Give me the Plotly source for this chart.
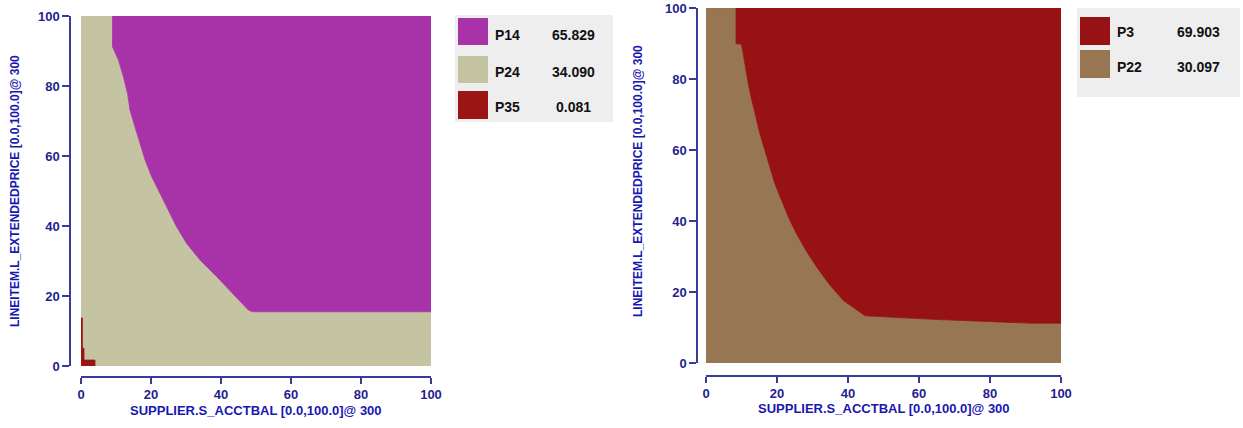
import plotly.graph_objects as go

W, H = 1243, 428

# ---- left panel: partition regions over SUPPLIER.S_ACCTBAL x LINEITEM.L_EXTENDEDPRICE ----
left_names = ["P14", "P24", "P35"]
left_shares = [65.829, 34.090, 0.081]
left_colors = ["#A833A8", "#C4C4A3", "#9B1515"]

# boundary between P24 (lower-left) and P14 (upper-right), from top to bottom
p14_edge_x = [9.0, 9.0, 10.7, 12.1, 13.3, 14.0, 15.4, 16.9, 18.3, 20.2, 22.6, 24.9, 27.3,
              30.2, 34.0, 38.8, 43.3, 47.8, 49.0, 100.0]
p14_edge_y = [100.0, 91.2, 87.4, 82.7, 77.9, 73.1, 68.4, 63.6, 58.9, 54.1, 49.3, 44.6, 39.8,
              35.0, 30.3, 25.5, 20.8, 16.0, 15.5, 15.5]

# small P35 pocket in the origin corner (step outline)
p35_x = [0.0, 4.0, 4.0, 0.86, 0.86, 0.4, 0.4, 0.0]
p35_y = [0.0, 0.0, 1.7, 1.7, 5.1, 5.1, 13.7, 13.7]

# ---- right panel ----
right_names = ["P3", "P22"]
right_shares = [69.903, 30.097]
right_colors = ["#961214", "#977653"]

p3_edge_x = [8.45, 8.45, 10.0, 11.0, 11.9, 12.9, 14.0, 15.2, 16.6, 18.0, 19.4, 21.3, 23.2,
             25.5, 28.2, 31.2, 34.7, 38.7, 44.8, 64.0, 80.9, 92.2, 100.0]
p3_edge_y = [100.0, 90.0, 89.8, 83.4, 78.7, 74.0, 69.3, 64.6, 59.9, 55.2, 50.5, 45.8, 41.1,
             36.4, 31.6, 27.0, 22.2, 17.6, 13.3, 12.3, 11.7, 11.2, 11.2]

x_ticks = [0, 20, 40, 60, 80, 100]
y_ticks = [0, 20, 40, 60, 80, 100]
x_title = "SUPPLIER.S_ACCTBAL [0.0,100.0]@ 300"
y_title = "LINEITEM.L_EXTENDEDPRICE [0.0,100.0]@ 300"

FONT = "Liberation Sans, Arial, sans-serif"
AXIS_LINE = "#3A3A9A"
TICK_COL = "#1F1F90"
TITLE_COL = "#1818B0"


def px(v):
    return v / W


def py(v):
    return 1 - v / H


def upper_region(ex, ey):
    """Polygon above/right of a boundary that runs from the top edge to the right edge."""
    xs = list(ex) + [100.0, ex[0]]
    ys = list(ey) + [100.0, ey[0]]
    return xs, ys


def lower_region(ex, ey):
    """Polygon below/left of the same boundary."""
    xs = [0.0, 100.0] + list(reversed(ex)) + [0.0, 0.0]
    ys = [0.0, 0.0] + list(reversed(ey)) + [100.0, 0.0]
    return xs, ys


def area(xs, ys, color, xa, ya):
    return go.Scatter(x=xs, y=ys, mode="lines", fill="toself", fillcolor=color,
                      line=dict(color=color, width=0.8), hoverinfo="skip",
                      showlegend=False, xaxis=xa, yaxis=ya)


fig = go.Figure()

# left panel
lx, ly = lower_region(p14_edge_x, p14_edge_y)
fig.add_trace(area(lx, ly, left_colors[1], "x", "y"))
ux, uy = upper_region(p14_edge_x, p14_edge_y)
fig.add_trace(area(ux, uy, left_colors[0], "x", "y"))
fig.add_trace(area(p35_x, p35_y, left_colors[2], "x", "y"))

# right panel
lx, ly = lower_region(p3_edge_x, p3_edge_y)
fig.add_trace(area(lx, ly, right_colors[1], "x2", "y2"))
ux, uy = upper_region(p3_edge_x, p3_edge_y)
fig.add_trace(area(ux, uy, right_colors[0], "x2", "y2"))

tickfont = dict(family=FONT, size=13, color=TICK_COL, weight="bold")


def xaxis(dom, pos):
    return dict(domain=dom, range=[0, 100], anchor="free", position=pos, automargin=False,
                showline=True, linecolor=AXIS_LINE, linewidth=1.5,
                ticks="outside", ticklen=6, tickwidth=1.5, tickcolor=AXIS_LINE,
                tickvals=x_ticks, tickfont=tickfont, showgrid=False, zeroline=False,
                fixedrange=True)


def yaxis(dom, pos):
    return dict(domain=dom, range=[0, 100], anchor="free", position=pos, automargin=False,
                showline=True, linecolor=AXIS_LINE, linewidth=1.5,
                ticks="outside", ticklen=7, tickwidth=1.5, tickcolor=AXIS_LINE,
                tickvals=y_ticks, tickfont=tickfont, showgrid=False, zeroline=False,
                fixedrange=True)


fig.update_layout(
    width=W, height=H,
    margin=dict(l=0, r=0, t=0, b=0, autoexpand=False),
    paper_bgcolor="white", plot_bgcolor="white",
    showlegend=False,
    xaxis=xaxis([px(81), px(431)], py(377)),
    yaxis=yaxis([py(366), py(16)], px(70)),
    xaxis2=xaxis([px(706), px(1061)], py(376)),
    yaxis2=yaxis([py(363), py(8)], px(697)),
)

annotations = []
shapes = []

x_title_font = dict(family=FONT, size=13, color=TITLE_COL, weight="bold")
y_title_font = dict(family=FONT, size=12, color=TITLE_COL, weight="bold")
for cx, cy in [(256, 410), (884, 408)]:
    annotations.append(dict(text=x_title, xref="paper", yref="paper", x=px(cx), y=py(cy),
                            xanchor="center", yanchor="middle", showarrow=False, font=x_title_font))
for cx, cy in [(15, 191), (638, 181)]:
    annotations.append(dict(text=y_title, xref="paper", yref="paper", x=px(cx), y=py(cy),
                            xanchor="center", yanchor="middle", textangle=-90,
                            showarrow=False, font=y_title_font))

legend_font = dict(family=FONT, size=14, color="#111111", weight="bold")


def legend_box(box, rows, names, shares, colors, sw_x, name_x, val_cx):
    x0, y0, x1, y1 = box
    shapes.append(dict(type="rect", xref="paper", yref="paper",
                       x0=px(x0), x1=px(x1), y0=py(y1), y1=py(y0),
                       fillcolor="#EEEEEE", line=dict(width=0), layer="above"))
    for (ry0, ry1, ty), name, share, col in zip(rows, names, shares, colors):
        shapes.append(dict(type="rect", xref="paper", yref="paper",
                           x0=px(sw_x[0]), x1=px(sw_x[1]), y0=py(ry1), y1=py(ry0),
                           fillcolor=col, line=dict(width=0), layer="above"))
        annotations.append(dict(text=name, xref="paper", yref="paper", x=px(name_x), y=py(ty),
                                xanchor="left", yanchor="middle", showarrow=False, font=legend_font))
        annotations.append(dict(text=f"{share:.3f}", xref="paper", yref="paper", x=px(val_cx), y=py(ty),
                                xanchor="center", yanchor="middle", showarrow=False, font=legend_font))


legend_box((455, 15, 613, 122), [(18, 45, 35), (56, 83, 72), (91, 119, 107)],
           left_names, left_shares, left_colors, (458, 488), 493, 573)
legend_box((1077, 8, 1240, 97), [(17, 45, 32), (50, 78, 67)],
           right_names, right_shares, right_colors, (1080, 1110), 1115, 1198)

fig.update_layout(annotations=annotations, shapes=shapes)

fig.write_html("out.html")
